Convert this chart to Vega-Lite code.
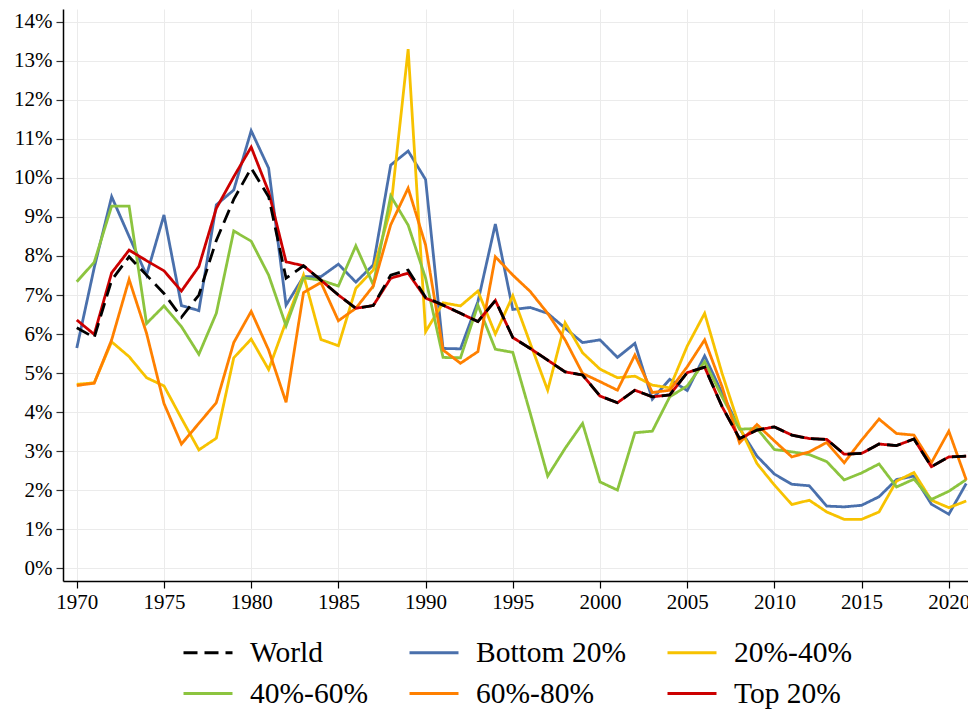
{
"$schema": "https://vega.github.io/schema/vega-lite/v6.json",
"width": 905, "height": 572,
"autosize": {"type": "none"},
"padding": {"left": 63, "top": 9, "right": 0, "bottom": 130},
"background": "white",
"config": {"view": {"stroke": null}, "font": "Liberation Serif, Times New Roman, serif"},
"datasets": {
"wide": [
{"year":1970,"b":5.64,"y":4.71,"g":7.34,"o":4.68,"r":6.36,"w":6.16},
{"year":1971,"b":7.7,"y":4.75,"g":7.84,"o":4.74,"r":5.99,"w":5.91},
{"year":1972,"b":9.52,"y":5.8,"g":9.28,"o":5.85,"r":7.57,"w":7.38},
{"year":1973,"b":8.5,"y":5.42,"g":9.28,"o":7.4,"r":8.15,"w":7.98},
{"year":1974,"b":7.51,"y":4.88,"g":6.27,"o":6.02,"r":7.88,"w":7.51},
{"year":1975,"b":9.05,"y":4.67,"g":6.72,"o":4.22,"r":7.62,"w":7.04},
{"year":1976,"b":6.73,"y":3.84,"g":6.19,"o":3.18,"r":7.1,"w":6.43},
{"year":1977,"b":6.6,"y":3.03,"g":5.48,"o":3.71,"r":7.73,"w":7.0},
{"year":1978,"b":9.31,"y":3.33,"g":6.53,"o":4.24,"r":9.22,"w":8.4},
{"year":1979,"b":9.69,"y":5.39,"g":8.64,"o":5.78,"r":10.03,"w":9.45},
{"year":1980,"b":11.21,"y":5.87,"g":8.38,"o":6.58,"r":10.79,"w":10.25},
{"year":1981,"b":10.25,"y":5.09,"g":7.51,"o":5.59,"r":9.65,"w":9.52},
{"year":1982,"b":6.74,"y":6.32,"g":6.21,"o":4.25,"r":7.85,"w":7.43},
{"year":1983,"b":7.47,"y":7.51,"g":7.44,"o":7.06,"r":7.75,"w":7.75},
{"year":1984,"b":7.47,"y":5.86,"g":7.38,"o":7.32,"r":7.38,"w":7.38},
{"year":1985,"b":7.79,"y":5.7,"g":7.23,"o":6.34,"r":7.0,"w":7.0},
{"year":1986,"b":7.33,"y":7.17,"g":8.26,"o":6.66,"r":6.66,"w":6.66},
{"year":1987,"b":7.77,"y":7.64,"g":7.26,"o":7.23,"r":6.73,"w":6.73},
{"year":1988,"b":10.33,"y":9.2,"g":9.54,"o":8.8,"r":7.43,"w":7.51},
{"year":1989,"b":10.69,"y":13.3,"g":8.79,"o":9.74,"r":7.56,"w":7.64},
{"year":1990,"b":9.96,"y":6.06,"g":7.43,"o":8.28,"r":6.92,"w":6.94},
{"year":1991,"b":5.63,"y":6.8,"g":5.4,"o":5.59,"r":6.74,"w":6.74},
{"year":1992,"b":5.62,"y":6.72,"g":5.39,"o":5.25,"r":6.53,"w":6.53},
{"year":1993,"b":6.83,"y":7.1,"g":6.74,"o":5.55,"r":6.32,"w":6.32},
{"year":1994,"b":8.82,"y":6.0,"g":5.61,"o":7.98,"r":6.86,"w":6.86},
{"year":1995,"b":6.63,"y":6.98,"g":5.53,"o":7.51,"r":5.91,"w":5.91},
{"year":1996,"b":6.68,"y":5.76,"g":3.97,"o":7.09,"r":5.63,"w":5.63},
{"year":1997,"b":6.53,"y":4.56,"g":2.36,"o":6.53,"r":5.33,"w":5.33},
{"year":1998,"b":6.15,"y":6.29,"g":3.07,"o":5.85,"r":5.03,"w":5.03},
{"year":1999,"b":5.78,"y":5.52,"g":3.71,"o":4.99,"r":4.95,"w":4.95},
{"year":2000,"b":5.85,"y":5.1,"g":2.21,"o":4.78,"r":4.41,"w":4.41},
{"year":2001,"b":5.4,"y":4.88,"g":2.0,"o":4.56,"r":4.24,"w":4.24},
{"year":2002,"b":5.76,"y":4.92,"g":3.47,"o":5.46,"r":4.56,"w":4.56},
{"year":2003,"b":4.33,"y":4.69,"g":3.51,"o":4.5,"r":4.39,"w":4.39},
{"year":2004,"b":4.84,"y":4.62,"g":4.39,"o":4.56,"r":4.44,"w":4.44},
{"year":2005,"b":4.55,"y":5.69,"g":4.67,"o":5.16,"r":5.01,"w":5.01},
{"year":2006,"b":5.44,"y":6.53,"g":5.29,"o":5.85,"r":5.15,"w":5.15},
{"year":2007,"b":4.48,"y":4.99,"g":4.39,"o":4.65,"r":4.14,"w":4.14},
{"year":2008,"b":3.58,"y":3.62,"g":3.56,"o":3.21,"r":3.32,"w":3.32},
{"year":2009,"b":2.87,"y":2.68,"g":3.58,"o":3.68,"r":3.54,"w":3.54},
{"year":2010,"b":2.41,"y":2.13,"g":3.04,"o":3.26,"r":3.62,"w":3.62},
{"year":2011,"b":2.15,"y":1.63,"g":2.98,"o":2.85,"r":3.41,"w":3.41},
{"year":2012,"b":2.11,"y":1.74,"g":2.91,"o":2.98,"r":3.32,"w":3.32},
{"year":2013,"b":1.59,"y":1.44,"g":2.73,"o":3.22,"r":3.3,"w":3.3},
{"year":2014,"b":1.57,"y":1.25,"g":2.26,"o":2.7,"r":2.92,"w":2.92},
{"year":2015,"b":1.61,"y":1.25,"g":2.44,"o":3.28,"r":2.94,"w":2.94},
{"year":2016,"b":1.83,"y":1.44,"g":2.67,"o":3.82,"r":3.18,"w":3.18},
{"year":2017,"b":2.27,"y":2.23,"g":2.08,"o":3.45,"r":3.14,"w":3.14},
{"year":2018,"b":2.36,"y":2.45,"g":2.28,"o":3.41,"r":3.31,"w":3.31},
{"year":2019,"b":1.64,"y":1.74,"g":1.76,"o":2.7,"r":2.6,"w":2.6},
{"year":2020,"b":1.38,"y":1.55,"g":1.97,"o":3.51,"r":2.85,"w":2.85},
{"year":2021,"b":2.17,"y":1.72,"g":2.27,"o":2.26,"r":2.87,"w":2.87}
]
},
"data": {"name": "wide"},
"transform": [
  {"fold": ["b", "y", "g", "o", "r", "w"], "as": ["key", "value"]},
  {"lookup": "key", "from": {"data": {"values": [
    {"key": "b", "group": "Bottom 20%"},
    {"key": "y", "group": "20%-40%"},
    {"key": "g", "group": "40%-60%"},
    {"key": "o", "group": "60%-80%"},
    {"key": "r", "group": "Top 20%"},
    {"key": "w", "group": "World"}
  ]}, "key": "key", "fields": ["group"]}}
],
"mark": {"type": "line", "strokeWidth": 2.8, "clip": false},
"encoding": {
  "x": {"field": "year", "type": "quantitative",
    "scale": {"domain": [1969.21, 2021.1], "nice": false, "zero": false},
    "axis": {"values": [1970,1975,1980,1985,1990,1995,2000,2005,2010,2015,2020], "format": "d", "title": null,
      "grid": true, "gridColor": "#ebebeb", "gridWidth": 1, "domainColor": "#000", "domainWidth": 1.5,
      "tickColor": "#000", "tickSize": 7, "tickWidth": 1.2, "labelFont": "Liberation Serif, Times New Roman, serif", "labelFontSize": 21,
      "labelColor": "#000", "labelPadding": 3, "labelFlush": false, "labelOverlap": false}},
  "y": {"field": "value", "type": "quantitative",
    "scale": {"domain": [-0.33, 14.33], "nice": false, "zero": false},
    "axis": {"values": [0,1,2,3,4,5,6,7,8,9,10,11,12,13,14], "labelExpr": "datum.value + '%'", "title": null,
      "grid": true, "gridColor": "#ebebeb", "gridWidth": 1, "domainColor": "#000", "domainWidth": 1.5,
      "tickColor": "#333", "tickSize": 7, "tickWidth": 1.2, "labelFont": "Liberation Serif, Times New Roman, serif", "labelFontSize": 21,
      "labelColor": "#000", "labelPadding": 4, "labelOverlap": false}},
  "color": {"field": "group", "type": "nominal",
    "scale": {"domain": ["World", "Bottom 20%", "20%-40%", "40%-60%", "60%-80%", "Top 20%"],
      "range": ["#000000", "#4A70AC", "#F7C200", "#8CC43F", "#FF8000", "#CC0000"]},
    "legend": {"orient": "none", "legendX": 119, "legendY": 617.5, "direction": "horizontal", "columns": 3,
      "title": null, "symbolType": "stroke", "symbolSize": 2401, "symbolStrokeWidth": 3,
      "labelFont": "Liberation Serif, Times New Roman, serif", "labelFontSize": 29.5, "labelColor": "#000", "labelOffset": 16,
      "columnPadding": 35, "rowPadding": -9, "labelLimit": 400, "padding": 0}},
  "strokeDash": {"field": "group", "type": "nominal",
    "scale": {"domain": ["World", "Bottom 20%", "20%-40%", "40%-60%", "60%-80%", "Top 20%"],
      "range": [[14, 7], [1, 0], [1, 0], [1, 0], [1, 0], [1, 0]]},
    "legend": {"orient": "none", "legendX": 119, "legendY": 617.5, "direction": "horizontal", "columns": 3,
      "title": null, "symbolType": "stroke", "symbolSize": 2401, "symbolStrokeWidth": 3,
      "labelFont": "Liberation Serif, Times New Roman, serif", "labelFontSize": 29.5, "labelColor": "#000", "labelOffset": 16,
      "columnPadding": 35, "rowPadding": -9, "labelLimit": 400, "padding": 0}}
}
}
